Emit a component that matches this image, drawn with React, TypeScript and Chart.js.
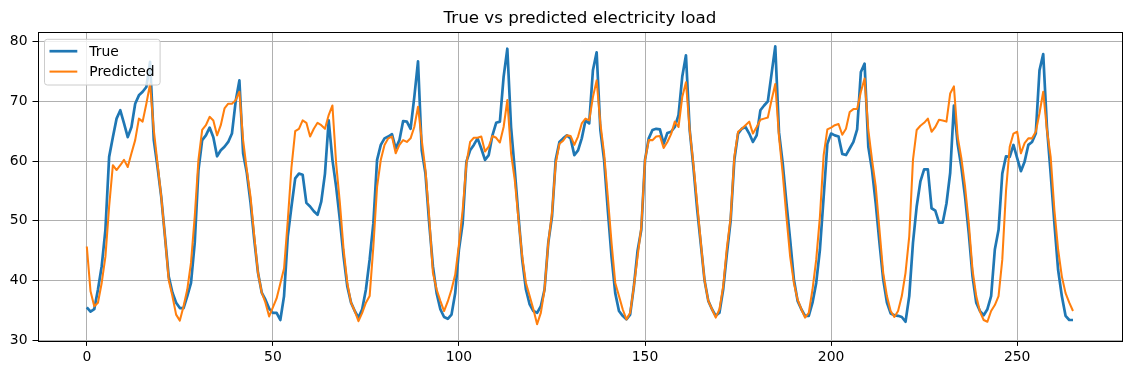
import React, { useEffect, useRef } from "react";
import { Chart, registerables } from "chart.js";

Chart.register(...registerables);

const FONT = "'DejaVu Sans', 'Liberation Sans', sans-serif";

const chartTitle = "True vs predicted electricity load";
const seriesNames = ["True", "Predicted"];
const seriesColors = ["#1f77b4", "#ff7f0e"];

const trueLoad = [
  35.5, 34.8, 35.2, 38.5, 42.4, 48.5, 60.7, 64.0, 67.1, 68.5,
  66.3, 64.0, 65.7, 69.6, 71.0, 71.6, 72.4, 76.6, 63.5, 59.0,
  54.0, 47.4, 40.7, 38.0, 36.3, 35.4, 35.4, 37.4, 39.6, 46.3,
  58.5, 63.5, 64.3, 65.6, 64.0, 60.8, 61.8, 62.4, 63.2, 64.6,
  70.0, 73.5, 61.3, 58.0, 53.0, 46.8, 41.3, 38.0, 36.8, 35.3,
  34.6, 34.6, 33.4, 37.4, 47.4, 52.4, 57.1, 57.9, 57.7, 53.0,
  52.4, 51.6, 51.0, 53.2, 57.9, 66.8, 60.2, 55.7, 50.2, 44.0,
  39.0, 36.3, 34.9, 33.8, 35.2, 38.5, 43.5, 49.6, 60.2, 62.7,
  63.8, 64.1, 64.5, 62.1, 63.5, 66.7, 66.6, 65.4, 70.7, 76.7,
  61.8, 57.9, 49.6, 42.4, 37.9, 35.2, 33.9, 33.6, 34.3, 37.9,
  45.2, 49.6, 59.9, 61.8, 62.7, 63.8, 62.1, 60.2, 61.0, 64.3,
  66.4, 66.6, 74.1, 78.8, 65.7, 58.5, 50.7, 43.5, 38.5, 36.0,
  34.9, 34.6, 35.7, 38.5, 46.3, 50.7, 60.2, 63.2, 63.8, 64.3,
  63.8, 61.0, 61.8, 63.8, 66.8, 66.3, 75.2, 78.2, 65.2, 60.2,
  51.8, 44.0, 37.9, 34.9, 34.1, 33.5, 34.3, 39.0, 45.0, 48.5,
  60.2, 63.8, 65.2, 65.4, 65.3, 62.9, 64.7, 64.9, 65.7, 67.7,
  74.1, 77.7, 65.2, 59.0, 52.0, 46.0, 40.0, 36.6, 35.2, 34.1,
  34.6, 38.5, 44.5, 50.0, 60.2, 64.6, 65.4, 65.7, 64.6, 63.2,
  64.3, 68.5, 69.3, 70.0, 74.6, 79.2, 64.8, 59.6, 53.0, 46.8,
  40.2, 36.6, 35.2, 34.1, 34.1, 36.3, 39.6, 45.2, 54.0, 62.9,
  64.6, 64.3, 64.1, 61.2, 61.0, 62.1, 63.2, 65.3, 74.9, 76.3,
  62.4, 58.5, 52.9, 46.3, 40.2, 36.3, 34.5, 34.2, 34.1, 33.9,
  33.1, 37.4, 46.3, 52.4, 56.6, 58.6, 58.6, 52.1, 51.7, 49.7,
  49.7, 52.9, 58.0, 69.3, 62.9, 59.0, 54.0, 47.9, 40.7, 36.3,
  34.9, 34.2, 35.2, 37.4, 45.2, 48.5, 57.9, 60.8, 60.7, 62.7,
  60.5, 58.3, 59.9, 62.7, 63.2, 64.6, 75.2, 77.9, 65.7, 57.9,
  49.6, 41.8, 37.4, 34.1, 33.4, 33.4,
];

const predictedLoad = [
  45.7, 38.2, 35.7, 36.3, 39.6, 44.0, 52.4, 59.3, 58.5, 59.3,
  60.2, 59.0, 61.3, 63.5, 67.1, 66.6, 69.6, 72.9, 65.2, 59.6,
  54.0, 47.4, 40.1, 37.4, 34.3, 33.3, 35.7, 38.5, 43.0, 50.7,
  60.2, 65.2, 66.0, 67.4, 66.8, 64.3, 66.0, 68.8, 69.6, 69.6,
  70.2, 71.6, 63.5, 58.5, 54.0, 47.4, 41.3, 38.0, 36.3, 34.0,
  35.5, 37.0, 39.5, 42.0, 50.0, 59.0, 65.0, 65.4, 66.8, 66.4,
  64.1, 65.4, 66.4, 66.0, 65.4, 67.7, 69.3, 59.6, 53.0, 45.2,
  39.6, 36.3, 34.9, 33.2, 34.6, 36.3, 37.4, 45.7, 55.7, 60.2,
  62.7, 63.8, 64.1, 61.3, 62.7, 63.5, 63.2, 63.8, 65.7, 69.1,
  63.5, 58.5, 50.7, 41.3, 38.5, 36.6, 34.9, 36.5, 38.5, 41.0,
  46.0, 51.8, 59.6, 63.2, 63.9, 63.9, 64.1, 61.6, 62.4, 64.2,
  63.9, 63.1, 65.7, 70.2, 61.3, 56.8, 50.2, 44.0, 39.6, 37.4,
  35.2, 32.7, 34.6, 38.5, 46.3, 51.3, 59.6, 62.9, 63.4, 64.3,
  64.2, 62.7, 64.1, 66.3, 67.1, 66.8, 70.7, 73.5, 66.3, 61.3,
  54.0, 46.3, 39.6, 37.4, 35.2, 33.5, 34.6, 39.0, 44.0, 49.0,
  60.2, 63.5, 63.5, 64.1, 64.2, 62.2, 63.2, 64.5, 66.6, 65.7,
  70.7, 73.2, 65.2, 59.5, 53.0, 46.3, 40.0, 36.6, 35.2, 33.8,
  35.2, 39.0, 45.5, 50.5, 60.7, 64.9, 65.4, 66.0, 66.6, 64.6,
  65.7, 66.9, 67.1, 67.3, 70.2, 72.9, 64.1, 57.9, 50.7, 44.0,
  39.6, 36.8, 35.2, 33.8, 34.6, 38.5, 43.5, 50.7, 61.0, 65.3,
  65.6, 66.0, 66.2, 64.4, 65.4, 68.2, 68.7, 68.7, 71.6, 73.8,
  65.2, 60.2, 55.7, 48.5, 41.3, 37.4, 34.9, 33.9, 34.9, 37.4,
  41.3, 47.4, 60.2, 65.2, 65.9, 66.4, 67.1, 64.9, 65.7, 66.9,
  66.8, 66.6, 71.3, 72.5, 64.1, 60.5, 55.7, 49.6, 41.8, 37.4,
  34.8, 33.4, 33.1, 34.9, 35.9, 37.4, 43.5, 55.0, 62.4, 64.6,
  64.9, 61.3, 63.0, 63.8, 63.8, 64.9, 68.0, 71.6, 65.2, 60.7,
  51.8, 45.2, 40.7, 37.9, 36.3, 34.9,
];

const xTickValues = [0, 50, 100, 150, 200, 250];
const yTickValues = [30, 40, 50, 60, 70, 80];

const W = 1132;
const H = 374;
const AREA = { left: 37.5, top: 32.3, right: 1122.3, bottom: 340.9 };
const X_RANGE = [-13.25, 278.25];
const Y_RANGE = [29.9, 81.55];
const LINE_WIDTHS = [2.7, 2.05];

const decorPlugin = {
  id: "mplDecor",
  afterDraw(chart: any) {
    const ctx = chart.ctx as CanvasRenderingContext2D;
    const a = chart.chartArea;
    ctx.save();
    // spines
    ctx.strokeStyle = "#000";
    ctx.lineWidth = 1;
    ctx.strokeRect(Math.round(a.left) + 0.5, Math.round(a.top) + 0.5, Math.round(a.right) - Math.round(a.left), Math.round(a.bottom) - Math.round(a.top));
    // title
    ctx.fillStyle = "#000";
    ctx.font = `16.7px ${FONT}`;
    ctx.textAlign = "center";
    ctx.textBaseline = "alphabetic";
    ctx.fillText(chartTitle, (a.left + a.right) / 2, 22.7);
    // legend
    const fs = 13.9;
    ctx.font = `${fs}px ${FONT}`;
    const textX = 89.3;
    const textW = Math.max(...seriesNames.map((n) => ctx.measureText(n).width));
    const bx = 44.5;
    const by = 39.3;
    const bw = textX + textW + 5.6 - bx;
    const bh = 45.7;
    const r = 2.8;
    ctx.beginPath();
    ctx.moveTo(bx + r, by);
    ctx.lineTo(bx + bw - r, by);
    ctx.arcTo(bx + bw, by, bx + bw, by + r, r);
    ctx.lineTo(bx + bw, by + bh - r);
    ctx.arcTo(bx + bw, by + bh, bx + bw - r, by + bh, r);
    ctx.lineTo(bx + r, by + bh);
    ctx.arcTo(bx, by + bh, bx, by + bh - r, r);
    ctx.lineTo(bx, by + r);
    ctx.arcTo(bx, by, bx + r, by, r);
    ctx.closePath();
    ctx.fillStyle = "rgba(255,255,255,0.8)";
    ctx.fill();
    ctx.strokeStyle = "#cccccc";
    ctx.lineWidth = 1;
    ctx.stroke();
    const lineYs = [51.2, 71.6];
    const baseYs = [56.1, 76.4];
    seriesNames.forEach((name, k) => {
      ctx.beginPath();
      ctx.strokeStyle = seriesColors[k];
      ctx.lineWidth = LINE_WIDTHS[k];
      ctx.moveTo(49.5, lineYs[k]);
      ctx.lineTo(77.3, lineYs[k]);
      ctx.stroke();
      ctx.fillStyle = "#000";
      ctx.textAlign = "left";
      ctx.textBaseline = "alphabetic";
      ctx.fillText(name, textX, baseYs[k]);
    });
    ctx.restore();
  },
};

export default function App() {
  const ref = useRef<HTMLCanvasElement | null>(null);

  useEffect(() => {
    if (!ref.current) return;
    const tickFont = { family: FONT, size: 13.9 };
    const chart = new Chart(ref.current, {
      type: "line",
      data: {
        datasets: [
          {
            label: seriesNames[0],
            data: trueLoad.map((y, i) => ({ x: i, y })),
            borderColor: seriesColors[0],
            backgroundColor: seriesColors[0],
            borderWidth: LINE_WIDTHS[0],
            pointRadius: 0,
            tension: 0,
            borderJoinStyle: "round",
            order: 1,
          },
          {
            label: seriesNames[1],
            data: predictedLoad.map((y, i) => ({ x: i, y })),
            borderColor: seriesColors[1],
            backgroundColor: seriesColors[1],
            borderWidth: LINE_WIDTHS[1],
            pointRadius: 0,
            tension: 0,
            borderJoinStyle: "round",
            order: 0,
          },
        ],
      },
      options: {
        responsive: false,
        animation: false,
        events: [],
        layout: {
          padding: { left: 0, top: AREA.top, right: W - AREA.right, bottom: 0 },
        },
        plugins: {
          legend: { display: false },
          title: { display: false },
          tooltip: { enabled: false },
        },
        scales: {
          x: {
            type: "linear",
            min: X_RANGE[0],
            max: X_RANGE[1],
            afterBuildTicks: (s: any) => {
              s.ticks = xTickValues.map((v) => ({ value: v }));
            },
            afterFit: (s: any) => {
              s.height = H - AREA.bottom;
            },
            grid: { color: "#b0b0b0", lineWidth: 1, tickColor: "#000", tickLength: 5, tickWidth: 1 },
            border: { display: false },
            ticks: {
              font: tickFont,
              color: "#000",
              padding: 3,
              maxRotation: 0,
              autoSkip: false,
              callback: (v: any) => String(v),
            },
          },
          y: {
            type: "linear",
            min: Y_RANGE[0],
            max: Y_RANGE[1],
            afterBuildTicks: (s: any) => {
              s.ticks = yTickValues.map((v) => ({ value: v }));
            },
            afterFit: (s: any) => {
              s.width = AREA.left;
            },
            grid: { color: "#b0b0b0", lineWidth: 1, tickColor: "#000", tickLength: 5, tickWidth: 1 },
            border: { display: false },
            ticks: {
              font: tickFont,
              color: "#000",
              padding: 5,
              autoSkip: false,
              callback: (v: any) => String(v),
            },
          },
        },
      },
      plugins: [decorPlugin],
    } as any);
    return () => chart.destroy();
  }, []);

  return (
    <div style={{ position: "absolute", left: 0, top: 0, width: W, height: H, background: "#fff" }}>
      <canvas ref={ref} width={W} height={H} style={{ display: "block", width: W, height: H }} />
    </div>
  );
}
